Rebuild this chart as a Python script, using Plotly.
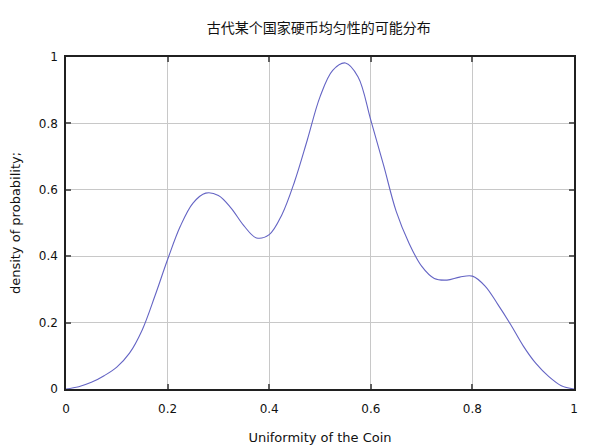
import plotly.graph_objects as go

# curve (uniformity -> density), every 0.025
uniformity = [0.0, 0.025, 0.05, 0.075, 0.1, 0.125, 0.15, 0.175, 0.2, 0.225,
              0.25, 0.275, 0.3, 0.325, 0.35, 0.375, 0.4, 0.425, 0.45, 0.475,
              0.5, 0.525, 0.55, 0.575, 0.6, 0.625, 0.65, 0.675, 0.7, 0.725,
              0.75, 0.775, 0.8, 0.825, 0.85, 0.875, 0.9, 0.925, 0.95, 0.975,
              1.0]
density = [0.0, 0.007, 0.02, 0.04, 0.066, 0.108, 0.178, 0.28, 0.39, 0.49,
           0.56, 0.59, 0.583, 0.545, 0.492, 0.455, 0.465, 0.525, 0.625, 0.75,
           0.88, 0.96, 0.982, 0.94, 0.81, 0.675, 0.535, 0.44, 0.37, 0.333,
           0.328, 0.337, 0.34, 0.31, 0.255, 0.195, 0.13, 0.077, 0.038, 0.01,
           0.0]

x_ticks = [0, 0.2, 0.4, 0.6, 0.8, 1]
x_labels = ["0", "0.2", "0.4", "0.6", "0.8", "1"]
y_ticks = [0, 0.2, 0.4, 0.6, 0.8, 1]
y_labels = ["0", "0.2", "0.4", "0.6", "0.8", "1"]

fig = go.Figure()
fig.add_trace(go.Scatter(
    x=uniformity, y=density,
    mode="lines",
    line=dict(color="#6464c4", width=1.1, shape="spline", smoothing=1.0),
    showlegend=False,
))

axis_style = dict(
    showgrid=True, gridcolor="#c8c8c8", gridwidth=1,
    zeroline=False, automargin=False,
    showline=True, linecolor="#202020", linewidth=1.5, mirror="ticks",
    ticks="inside", ticklen=5, tickcolor="#606060", tickwidth=1.5,
    tickfont=dict(family="DejaVu Sans", size=12, color="#111111"),
)

# the page body keeps its 8px margin, so the figure is sized a bit smaller
fig.update_layout(
    width=592, height=439,
    margin=dict(l=58, r=26, t=49, b=58),
    paper_bgcolor="white", plot_bgcolor="white",
    title=dict(text="古代某个国家硬币均匀性的可能分布",
               x=0.525, xanchor="center", y=0.954, yanchor="middle",
               font=dict(family="Noto Sans CJK SC", size=14, color="#111111")),
    xaxis=dict(axis_style, range=[0, 1], tickvals=x_ticks, ticktext=x_labels,
               ticklabelstandoff=8,
               title=dict(text="Uniformity of the Coin", standoff=18,
                          font=dict(family="DejaVu Sans", size=13, color="#111111"))),
    yaxis=dict(axis_style, range=[0, 1], tickvals=y_ticks, ticktext=y_labels,
               ticklabelstandoff=4,
               title=dict(text="density of probability;", standoff=18,
                          font=dict(family="DejaVu Sans", size=13, color="#111111"))),
)

fig.write_html("out.html")
